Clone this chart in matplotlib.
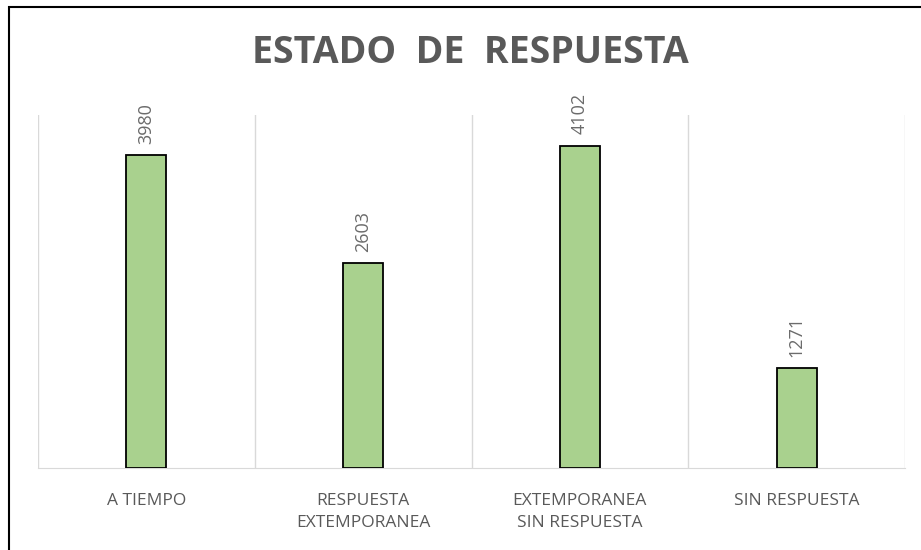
import matplotlib.pyplot as plt
from matplotlib.patches import Rectangle
import numpy as np

categorias = ['A TIEMPO', 'RESPUESTA\nEXTEMPORANEA', 'EXTEMPORANEA\nSIN RESPUESTA', 'SIN RESPUESTA']
valores = [3980, 2603, 4102, 1271]

gris = '#595959'
plt.rcParams['font.family'] = ['Open Sans', 'DejaVu Sans']

fig = plt.figure(figsize=(9.21, 5.5), dpi=100)
ax = fig.add_axes([38/921, 1 - 468/550, 867/921, 353/550])

x = np.arange(len(categorias))
ax.bar(x, valores, width=0.185, color='#a9d18e', edgecolor='black', linewidth=1.3, zorder=3)

for xi, v in zip(x, valores):
    ax.text(xi, v + 140, str(v), rotation=90, ha='center', va='bottom',
            fontsize=13, color='#6b6b6b')

ax.set_xlim(-0.5, len(categorias) - 0.5)
ax.set_ylim(0, 4490)
ax.set_xticks(x)
ax.set_xticklabels(categorias, fontsize=12.5, color=gris, linespacing=1.5)
ax.tick_params(axis='x', length=0, pad=18)
ax.set_yticks([])

# lineas verticales entre categorias
ax.set_xticks(np.arange(-0.5, len(categorias)), minor=True)
ax.tick_params(axis='x', which='minor', length=0)
ax.grid(which='minor', axis='x', color='#d9d9d9', linewidth=1)

for s in ['top', 'right', 'left']:
    ax.spines[s].set_visible(False)
ax.spines['bottom'].set_color('#d9d9d9')

fig.text(470/921, 1 - 53/550, 'ESTADO  DE  RESPUESTA', ha='center', va='center',
         fontsize=27, fontweight='bold', color=gris)

fig.patches.append(Rectangle((9/921, -0.1), 1.1, 1.087, transform=fig.transFigure,
                             fill=False, edgecolor='black', linewidth=1.5, clip_on=False))

plt.savefig('out.png', dpi=100)
